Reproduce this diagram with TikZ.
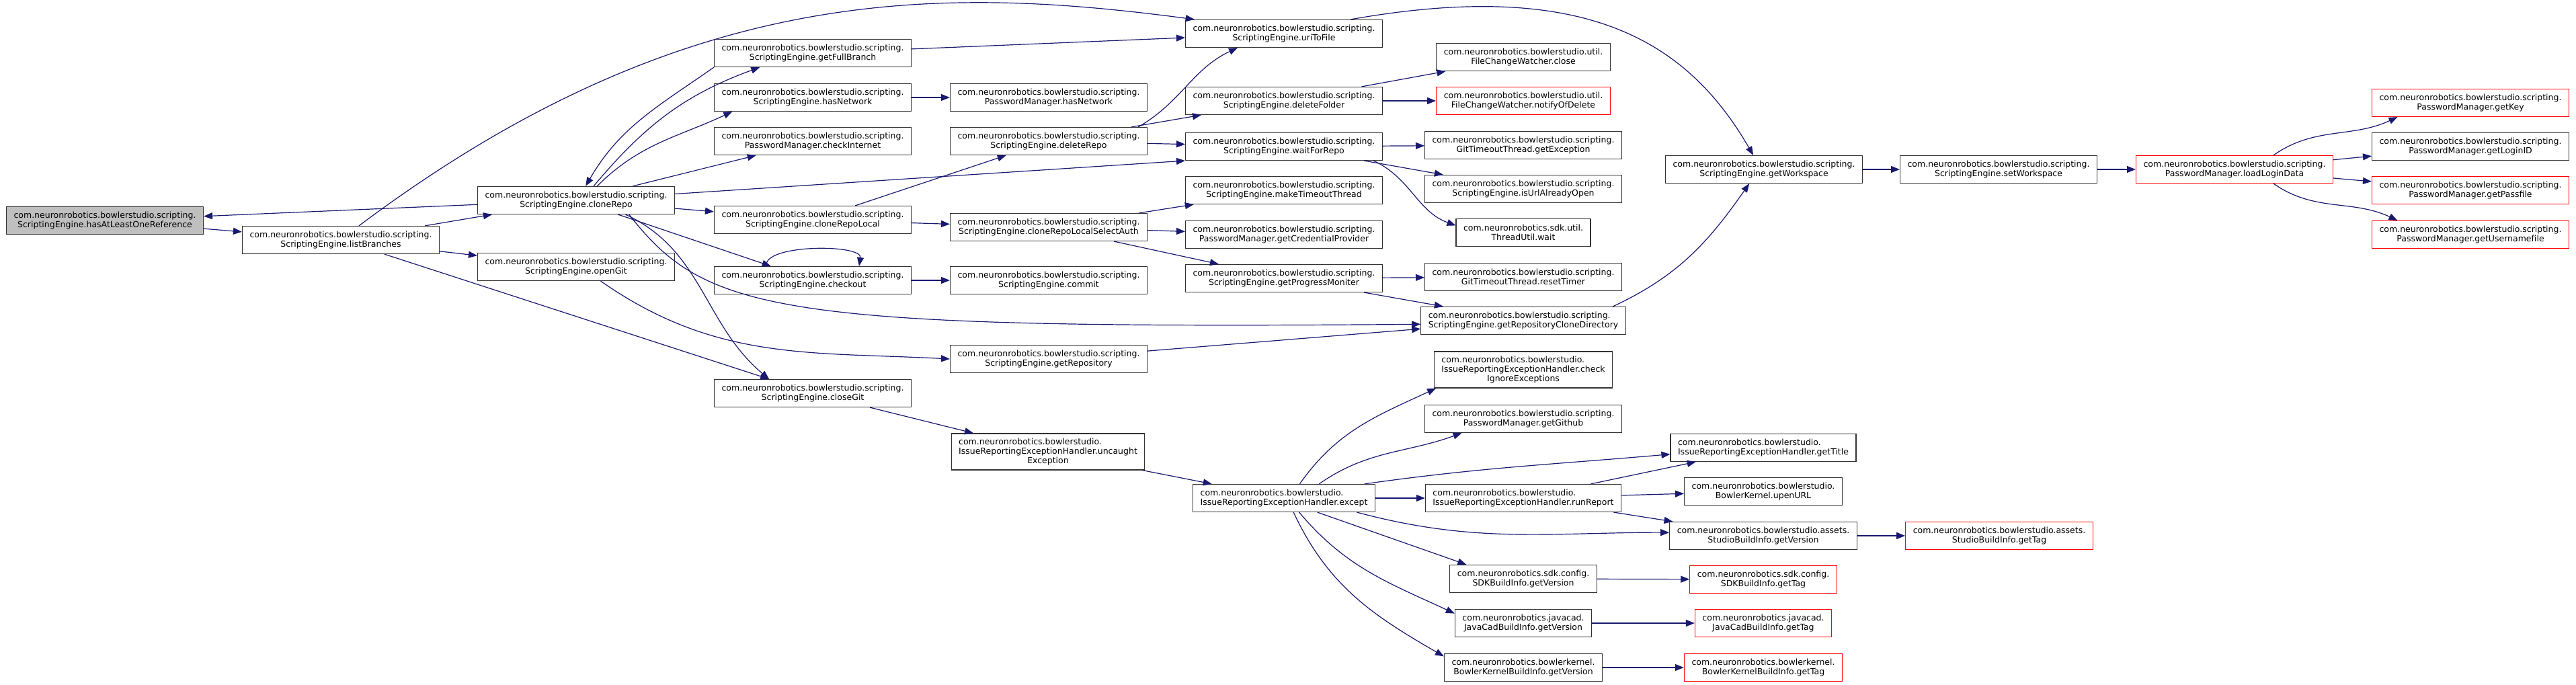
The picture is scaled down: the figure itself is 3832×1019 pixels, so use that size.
\documentclass[tikz,border=0pt]{standalone}
\usepackage{fontspec}
\usetikzlibrary{arrows.meta}
\newfontfamily\graphfont{DejaVu Sans}
\definecolor{edgeblue}{RGB}{25,25,112}
\newcommand\nrs{com.neuronrobotics.bowlerstudio.scripting.}
\newcommand\nrb{com.neuronrobotics.bowlerstudio.}

\begin{document}
\begin{tikzpicture}[x=1pt,y=1pt,
 fn/.style={draw=black!80,fill=white,line width=1.2pt,align=center,inner xsep=11pt,inner ysep=4pt,
  minimum height=41pt,font={\graphfont\fontsize{12.5}{14}\selectfont}},
 fnred/.style={fn,draw=red},
 fnroot/.style={fn,fill=black!25},
 fnleft/.style={fn,align=left},
 fn3/.style={fnleft,minimum height=54pt},
 call/.style={draw=edgeblue,line width=1.2pt,-{Triangle[length=13pt,width=10pt]}}]
 \useasboundingbox (0,0) rectangle (3832,1019);

 % callers on the left
 \node[fnroot] (hasRef) at (156,691) {\nrs\\ScriptingEngine.hasAtLeastOneReference};
 \node[fn] (listBranches) at (507,662) {\nrs\\ScriptingEngine.listBranches};
 \node[fn] (cloneRepo) at (857,721) {\nrs\\ScriptingEngine.cloneRepo};
 \node[fn] (openGit) at (857,622) {\nrs\\ScriptingEngine.openGit};

 \node[fn] (getFullBranch) at (1209,940) {\nrs\\ScriptingEngine.getFullBranch};
 \node[fn] (hasNetwork) at (1209,874) {\nrs\\ScriptingEngine.hasNetwork};
 \node[fn] (checkInternet) at (1209,809) {\nrs\\PasswordManager.checkInternet};
 \node[fn] (cloneRepoLocal) at (1209,692) {\nrs\\ScriptingEngine.cloneRepoLocal};
 \node[fn] (checkout) at (1209,602) {\nrs\\ScriptingEngine.checkout};
 \node[fn] (closeGit) at (1209,434) {\nrs\\ScriptingEngine.closeGit};

 \node[fn] (pmHasNetwork) at (1560,874) {\nrs\\PasswordManager.hasNetwork};
 \node[fn] (deleteRepo) at (1560,809) {\nrs\\ScriptingEngine.deleteRepo};
 \node[fn] (selectAuth) at (1560,681) {\nrs\\ScriptingEngine.cloneRepoLocalSelectAuth};
 \node[fn] (commit) at (1560,602) {\nrs\\ScriptingEngine.commit};
 \node[fn] (getRepository) at (1560,485) {\nrs\\ScriptingEngine.getRepository};
 \node[fn3] (uncaught) at (1559,347) {\nrb\\IssueReportingExceptionHandler.uncaught\\\hspace*{\fill}Exception\hspace*{\fill}};

 \node[fn] (uriToFile) at (1910,969) {\nrs\\ScriptingEngine.uriToFile};
 \node[fn] (deleteFolder) at (1910,869) {\nrs\\ScriptingEngine.deleteFolder};
 \node[fn] (waitForRepo) at (1910,801) {\nrs\\ScriptingEngine.waitForRepo};
 \node[fn] (makeTimeout) at (1910,736) {\nrs\\ScriptingEngine.makeTimeoutThread};
 \node[fn] (getCredential) at (1910,670) {\nrs\\PasswordManager.getCredentialProvider};
 \node[fn] (getProgress) at (1910,605) {\nrs\\ScriptingEngine.getProgressMoniter};
 \node[fnleft] (except) at (1910,278) {\nrb\\IssueReportingExceptionHandler.except};

 \node[fn] (fcwClose) at (2266,934) {com.neuronrobotics.bowlerstudio.util.\\FileChangeWatcher.close};
 \node[fnred] (notifyOfDelete) at (2266,869) {com.neuronrobotics.bowlerstudio.util.\\FileChangeWatcher.notifyOfDelete};
 \node[fn] (getException) at (2266,803) {\nrs\\GitTimeoutThread.getException};
 \node[fn] (isUrlOpen) at (2266,738) {\nrs\\ScriptingEngine.isUrlAlreadyOpen};
 \node[fn] (threadWait) at (2266,673) {com.neuronrobotics.sdk.util.\\ThreadUtil.wait};
 \node[fn] (resetTimer) at (2266,607) {\nrs\\GitTimeoutThread.resetTimer};
 \node[fnleft] (cloneDir) at (2266,542) {\nrs\\ScriptingEngine.getRepositoryCloneDirectory};
 \node[fn3] (checkIgnore) at (2266,469) {\nrb\\IssueReportingExceptionHandler.check\\\hspace*{\fill}IgnoreExceptions\hspace*{\fill}};
 \node[fn] (getGithub) at (2266,396) {\nrs\\PasswordManager.getGithub};
 \node[fnleft] (runReport) at (2266,278) {\nrb\\IssueReportingExceptionHandler.runReport};
 \node[fn] (sdkVersion) at (2266,158) {com.neuronrobotics.sdk.config.\\SDKBuildInfo.getVersion};
 \node[fn] (jcadVersion) at (2266,92) {com.neuronrobotics.javacad.\\JavaCadBuildInfo.getVersion};
 \node[fn] (bkVersion) at (2266,26) {com.neuronrobotics.bowlerkernel.\\BowlerKernelBuildInfo.getVersion};

 \node[fn] (getWorkspace) at (2624,767) {\nrs\\ScriptingEngine.getWorkspace};
 \node[fnleft] (getTitle) at (2623,353) {\nrb\\IssueReportingExceptionHandler.getTitle};
 \node[fn] (upenURL) at (2623,288) {\nrb\\BowlerKernel.upenURL};
 \node[fn] (studioVersion) at (2623,222) {com.neuronrobotics.bowlerstudio.assets.\\StudioBuildInfo.getVersion};
 \node[fnred] (sdkTag) at (2623,157) {com.neuronrobotics.sdk.config.\\SDKBuildInfo.getTag};
 \node[fnred] (jcadTag) at (2623,92) {com.neuronrobotics.javacad.\\JavaCadBuildInfo.getTag};
 \node[fnred] (bkTag) at (2623,26) {com.neuronrobotics.bowlerkernel.\\BowlerKernelBuildInfo.getTag};

 \node[fn] (setWorkspace) at (2973,767) {\nrs\\ScriptingEngine.setWorkspace};
 \node[fnred] (studioTag) at (2974,222) {com.neuronrobotics.bowlerstudio.assets.\\StudioBuildInfo.getTag};
 \node[fnred] (loadLogin) at (3324,767) {\nrs\\PasswordManager.loadLoginData};
 \node[fnred] (getKey) at (3675,866) {\nrs\\PasswordManager.getKey};
 \node[fn] (getLoginID) at (3675,801) {\nrs\\PasswordManager.getLoginID};
 \node[fnred] (getPassfile) at (3675,736) {\nrs\\PasswordManager.getPassfile};
 \node[fnred] (getUserfile) at (3675,670) {\nrs\\PasswordManager.getUsernamefile};

 % calls
 \draw[call] (cloneRepo) -- (hasRef);
 \draw[call] (hasRef) -- (listBranches);
 \draw[call] (listBranches) -- (cloneRepo);
 \draw[call] (listBranches.38) .. controls +(480,360) and +(-384,51) .. (uriToFile.171);
 \draw[call] (listBranches) -- (openGit);
 \draw[call] (listBranches) -- (closeGit);
 \draw[call] (cloneRepo.39) to[out=50,in=200] (getFullBranch.195);
 \draw[call] (getFullBranch.south west) to[out=215,in=60] (cloneRepo.56);
 \draw[call] (cloneRepo.34) to[out=45,in=205] (hasNetwork.190);
 \draw[call] (cloneRepo) -- (checkInternet);
 \draw[call] (cloneRepo) -- (waitForRepo.south west);
 \draw[call] (cloneRepo) -- (cloneRepoLocal);
 \draw[call] (cloneRepo) -- (checkout);
 \draw[call] (cloneRepo.-16) to[out=-25,in=140] (closeGit.162);
 \draw[call] (cloneRepo.-15) .. controls +(114,-146) and +(-959,-8) .. (cloneDir.182);
 \draw[call] (openGit.-30) to[out=-35,in=177] (getRepository.west);
 \draw[call] (checkout.163) .. controls +(-5,33) and +(5,33) .. (checkout.17);
 \draw[call] (checkout) -- (commit);
 \draw[call] (hasNetwork) -- (pmHasNetwork);
 \draw[call] (getFullBranch) -- (uriToFile);
 \draw[call] (cloneRepoLocal) -- (deleteRepo);
 \draw[call] (cloneRepoLocal) -- (selectAuth);
 \draw[call] (deleteRepo.9) to[out=30,in=205] (uriToFile.197);
 \draw[call] (deleteRepo) -- (deleteFolder);
 \draw[call] (deleteRepo) -- (waitForRepo);
 \draw[call] (selectAuth) -- (makeTimeout);
 \draw[call] (selectAuth) -- (getCredential);
 \draw[call] (selectAuth) -- (getProgress);
 \draw[call] (uriToFile.12) .. controls +(345,61) and +(-100,173) .. (getWorkspace.127);
 \draw[call] (deleteFolder) -- (fcwClose);
 \draw[call] (deleteFolder) -- (notifyOfDelete);
 \draw[call] (waitForRepo) -- (getException);
 \draw[call] (waitForRepo) -- (isUrlOpen);
 \draw[call] (waitForRepo.-9) to[out=-25,in=160] (threadWait.174);
 \draw[call] (getProgress) -- (resetTimer);
 \draw[call] (getProgress) -- (cloneDir);
 \draw[call] (getRepository) -- (cloneDir);
 \draw[call] (cloneDir.9) to[out=25,in=235] (getWorkspace.224);
 \draw[call] (getWorkspace) -- (setWorkspace);
 \draw[call] (setWorkspace) -- (loadLogin);
 \draw[call] (loadLogin.20) to[out=35,in=205] (getKey.191);
 \draw[call] (loadLogin) -- (getLoginID);
 \draw[call] (loadLogin) -- (getPassfile);
 \draw[call] (loadLogin.-20) to[out=-35,in=155] (getUserfile.169);
 \draw[call] (closeGit) -- (uncaught);
 \draw[call] (uncaught) -- (except);
 \draw[call] (except.42) to[out=55,in=205] (checkIgnore.192);
 \draw[call] (except.22) to[out=35,in=200] (getGithub.193);
 \draw[call] (except.10) to[out=8,in=185] (getTitle.184);
 \draw[call] (except) -- (runReport);
 \draw[call] (except.-11) to[out=-15,in=180] (studioVersion.178);
 \draw[call] (except.-23) -- (sdkVersion.166);
 \draw[call] (except.-43) to[out=-50,in=155] (jcadVersion.172);
 \draw[call] (except.-56) to[out=-65,in=150] (bkVersion.172);
 \draw[call] (runReport) -- (getTitle);
 \draw[call] (runReport) -- (upenURL);
 \draw[call] (runReport) -- (studioVersion);
 \draw[call] (studioVersion) -- (studioTag);
 \draw[call] (sdkVersion) -- (sdkTag);
 \draw[call] (jcadVersion) -- (jcadTag);
 \draw[call] (bkVersion) -- (bkTag);
\end{tikzpicture}
\end{document}
